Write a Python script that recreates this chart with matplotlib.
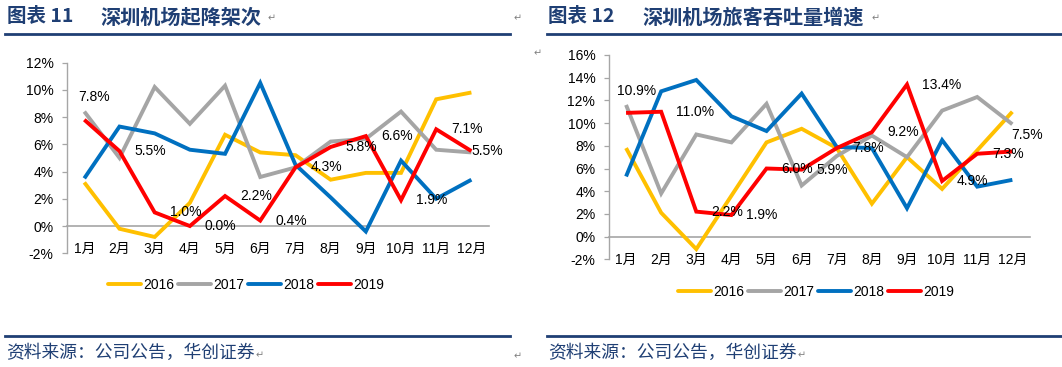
import matplotlib
matplotlib.use("Agg")
import matplotlib.pyplot as plt
from matplotlib.lines import Line2D

# ---------------- data ----------------
months = ["1月", "2月", "3月", "4月", "5月", "6月", "7月", "8月", "9月", "10月", "11月", "12月"]
years = ["2016", "2017", "2018", "2019"]

# 图表11 深圳机场起降架次 (同比, %)
mov_2016 = [3.2, -0.2, -0.8, 1.7, 6.7, 5.4, 5.2, 3.4, 3.9, 3.9, 9.3, 9.8]
mov_2017 = [8.4, 5.0, 10.2, 7.5, 10.3, 3.6, 4.3, 6.2, 6.4, 8.4, 5.6, 5.4]
mov_2018 = [3.5, 7.3, 6.8, 5.6, 5.3, 10.5, 4.5, 2.1, -0.4, 4.8, 2.0, 3.4]
mov_2019 = [7.8, 5.5, 1.0, 0.0, 2.2, 0.4, 4.3, 5.8, 6.6, 1.9, 7.1, 5.5]

# 图表12 深圳机场旅客吞吐量增速 (%)
pax_2016 = [7.8, 2.1, -1.1, 3.6, 8.3, 9.5, 7.8, 2.9, 7.0, 4.2, 7.6, 11.0]
pax_2017 = [11.6, 3.8, 9.0, 8.3, 11.7, 4.5, 7.1, 8.9, 7.0, 11.1, 12.3, 9.9]
pax_2018 = [5.3, 12.8, 13.8, 10.6, 9.3, 12.6, 7.9, 7.8, 2.5, 8.5, 4.4, 5.0]
pax_2019 = [10.9, 11.0, 2.2, 1.9, 6.0, 5.9, 7.8, 9.2, 13.4, 4.9, 7.3, 7.5]

left_yticks = [-2, 0, 2, 4, 6, 8, 10, 12]
right_yticks = [-2, 0, 2, 4, 6, 8, 10, 12, 14, 16]

# ---------------- style ----------------
colors = ["#FFC000", "#A5A5A5", "#0070C0", "#FF0000"]
NAVY = "#1F3F74"
AXC = "#A6A6A6"
FONT = ["Liberation Sans", "Noto Sans CJK SC", "DejaVu Sans"]
CJK = ["Noto Sans CJK SC", "DejaVu Sans"]
plt.rcParams["font.family"] = FONT

W, H = 1062, 367
fig = plt.figure(figsize=(W / 100, H / 100), dpi=100)


def px2fig(x, y):
    return x / W, 1 - y / H


def make_axes(rect_px, ylim, yticks, series, labels, label_offsets, legend_center, xpad):
    x0, y_top, x1, y_bot = rect_px
    ax = fig.add_axes([x0 / W, 1 - y_bot / H, (x1 - x0) / W, (y_bot - y_top) / H])
    xs = list(range(len(months)))
    for s, c, yr in zip(series, colors, years):
        ax.plot(xs, s, color=c, lw=2.8, label=yr, solid_joinstyle="miter",
                solid_capstyle="butt", zorder=3)
    ax.set_xlim(-0.5, len(months) - 0.5)
    ax.set_ylim(*ylim)
    ax.set_yticks(yticks)
    ax.set_yticklabels([f"{v}%" for v in yticks], fontsize=10)
    ax.set_xticks(xs)
    ax.set_xticklabels(months, fontsize=10, family=FONT)
    for sp in ["top", "right"]:
        ax.spines[sp].set_visible(False)
    ax.spines["bottom"].set_position(("data", 0))
    ax.spines["bottom"].set_color(AXC)
    ax.spines["bottom"].set_linewidth(1.2)
    ax.spines["left"].set_color(AXC)
    ax.spines["left"].set_linewidth(1.0)
    ax.tick_params(axis="x", length=0, pad=xpad)
    ax.tick_params(axis="y", length=3.5, width=0.9, color=AXC, pad=6, direction="out")
    ax.set_facecolor("none")
    # data labels for 2019
    last = series[-1]
    for i, (v, lab) in enumerate(zip(last, labels)):
        dx, dy = label_offsets[i]
        ax.annotate(lab, (i, v), xytext=(dx * 0.72, dy * 0.72), textcoords="offset points",
                    ha="left", va="center", fontsize=10, color="black", zorder=5)
    handles = [Line2D([], [], color=c, lw=2.8, solid_capstyle="round") for c in colors]
    lx, ly = legend_center
    fig.legend(handles, years, loc="center", bbox_to_anchor=px2fig(lx, ly), ncol=4,
               frameon=False, fontsize=10, handlelength=2.35, handletextpad=0.15,
               columnspacing=0.3, borderpad=0, borderaxespad=0)
    return ax


lab_left = [f"{v:.1f}%" for v in mov_2019]
lab_right = [f"{v:.1f}%" for v in pax_2019]
off_left = [(-6, 23)] + [(15, 0)] * 10 + [(0, 0)]
off_right = [(-9, 22)] + [(15, 0)] * 10 + [(-1, 16)]

make_axes((66.7, 62.5, 489, 253.3), (-2, 12), left_yticks,
          [mov_2016, mov_2017, mov_2018, mov_2019], lab_left, off_left, (246, 285), 11.5)
make_axes((608.5, 55, 1029.9, 259.3), (-2, 16), right_yticks,
          [pax_2016, pax_2017, pax_2018, pax_2019], lab_right, off_right, (816, 292), 12)

# ---------------- titles, rules, footers ----------------
def ftext(x, y, s, **kw):
    fx, fy = px2fig(x, y)
    fig.text(fx, fy, s, **kw)


def hline(x0, x1, y, lw=2.0):
    fx0, fy = px2fig(x0, y)
    fx1, _ = px2fig(x1, y)
    fig.add_artist(Line2D([fx0, fx1], [fy, fy], color=NAVY, lw=lw, transform=fig.transFigure))


for xa, num, xt, title, xr in [(7, "图表 11", 100, "深圳机场起降架次", 268),
                              (548, "图表 12", 642, "深圳机场旅客吞吐量增速", 872)]:
    ftext(xa, 17, num, family=CJK, fontsize=14, fontweight="bold", color=NAVY, va="center")
    ftext(xt, 17, title, family=CJK, fontsize=14.5, fontweight="bold", color=NAVY, va="center")
    ftext(xr, 18, "↵", family=["DejaVu Sans"], fontsize=7, color="#808080", va="center")

ftext(514, 18, "↵", family=["DejaVu Sans"], fontsize=7, color="#808080", va="center")
ftext(534, 53, "↵", family=["DejaVu Sans"], fontsize=7, color="#808080", va="center")

hline(5, 510, 33.5)
hline(547, 1062, 33.5)
hline(5, 510, 336)
hline(547, 1062, 336)

src = "资料来源：公司公告，华创证券"
ftext(6, 353, src, family=CJK, fontsize=12.8, color=NAVY, va="center", style="italic")
ftext(548, 353, src, family=CJK, fontsize=12.8, color=NAVY, va="center", style="italic")
ftext(256, 355, "↵", family=["DejaVu Sans"], fontsize=7, color="#808080", va="center")
ftext(798, 355, "↵", family=["DejaVu Sans"], fontsize=7, color="#808080", va="center")
ftext(514, 356, "↵", family=["DejaVu Sans"], fontsize=7, color="#808080", va="center")

fig.savefig("out.png", dpi=100)
